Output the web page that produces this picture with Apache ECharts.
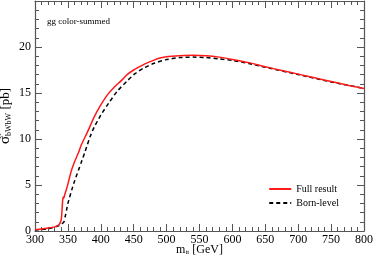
<!DOCTYPE html>
<html><head><meta charset="utf-8">
<script src="https://cdn.jsdelivr.net/npm/echarts@6/dist/echarts.min.js"></script>
<style>html,body{margin:0;padding:0;background:#fff}#c{width:374px;height:261px}</style>
</head><body><div id="c"></div>
<script>
var fullX = [300,310,320,330,335,338,340,341,342,343,344,345,348,350,355,360,366,370,380,390,400,410,420,432,440,450,460,468,480,490,500,520,540,560,580,600,625,650,675,700,725,750,775,800];
var fullY = [0.15,0.22,0.32,0.45,0.6,0.85,1.3,2.2,3.3,3.7,3.6,3.9,4.6,5.1,6.5,7.5,8.5,9.3,10.8,12.4,13.7,14.8,15.6,16.4,17.0,17.5,17.9,18.2,18.55,18.8,18.95,19.05,19.1,19.05,18.9,18.65,18.3,17.85,17.45,17.05,16.65,16.25,15.85,15.5];
var bornX = [300,320,335,340,344,346,348,350,356,360,366,370,376,384,390,400,412,425,440,452,465,480,498,520,540,560,580,600,625,650,700,750,800];
var bornY = [0.1,0.25,0.55,0.75,1.0,1.6,2.3,3.0,4.5,5.4,6.6,7.4,8.6,10.3,11.3,12.6,13.9,15.2,16.3,17.1,17.7,18.2,18.6,18.85,18.9,18.85,18.7,18.55,18.2,17.8,17.0,16.2,15.5];
var xTicks = [300,350,400,450,500,550,600,650,700,750,800];
var yTicks = [0,5,10,15,20];

function pairs(xs, ys){ return xs.map(function(x,i){return [x, ys[i]];}); }
var font = 'Liberation Serif';
var chart = echarts.init(document.getElementById('c'), null, {renderer:'canvas'});
var axLine = {show:true, onZero:false, lineStyle:{color:'#555', width:1.2}};
chart.setOption({
  animation:false,
  textStyle:{fontFamily:font},
  grid:{left:35, right:10, top:1, bottom:30, containLabel:false, outerBoundsMode:'none'},
  xAxis:[{
    type:'value', min:xTicks[0], max:xTicks[xTicks.length-1], interval:50,
    axisLine:axLine,
    axisTick:{inside:true, length:7, lineStyle:{color:'#555'}},
    minorTick:{show:true, splitNumber:5, length:4, lineStyle:{color:'#555'}},
    splitLine:{show:false},
    axisLabel:{color:'#000', fontSize:12, fontFamily:font, margin:3},
    name:'m{s|tt} [GeV]', nameLocation:'middle', nameGap:12, nameMoveOverlap:false,
    nameTextStyle:{color:'#000', fontSize:12, fontFamily:font, rich:{s:{fontSize:7, verticalAlign:'bottom', padding:[6,0,0,0], fontFamily:font}}}
  },{
    type:'value', position:'top', min:300, max:800, interval:50,
    axisLine:axLine,
    axisTick:{inside:true, length:7, lineStyle:{color:'#555'}},
    minorTick:{show:true, splitNumber:5, length:4, lineStyle:{color:'#555'}},
    splitLine:{show:false}, axisLabel:{show:false}
  }],
  yAxis:[{
    type:'value', min:0, max:25, interval:5,
    axisLine:axLine,
    axisTick:{inside:true, length:7, lineStyle:{color:'#555'}},
    minorTick:{show:true, splitNumber:5, length:4, lineStyle:{color:'#555'}},
    splitLine:{show:false},
    axisLabel:{color:'#000', fontSize:12, fontFamily:font, margin:4,
      formatter:function(v){return yTicks.indexOf(v)>=0 ? String(v) : '';}},
    name:'{g|σ̂}{s|bWbW} [pb]', nameLocation:'middle', nameGap:22, nameRotate:90, nameMoveOverlap:false,
    nameTextStyle:{color:'#000', fontSize:13, fontFamily:font, rich:{g:{fontSize:15, fontFamily:font}, s:{fontSize:8, verticalAlign:'bottom', padding:[7,0,0,0], fontFamily:font}}}
  },{
    type:'value', position:'right', min:0, max:25, interval:5,
    axisLine:axLine,
    axisTick:{inside:true, length:7, lineStyle:{color:'#555'}},
    minorTick:{show:true, splitNumber:5, length:4, lineStyle:{color:'#555'}},
    splitLine:{show:false}, axisLabel:{show:false}
  }],
  legend:{
    right:30, top:179, orient:'vertical', itemGap:4, itemWidth:22, itemHeight:8,
    itemStyle:{opacity:0},
    textStyle:{color:'#000', fontSize:10, fontFamily:font},
    data:['Full result','Born-level']
  },
  graphic:[{type:'text', left:47, top:17, style:{text:'gg color-summed', fill:'#000', font:'9px "Liberation Serif"'}}],
  series:[{
    name:'Full result', type:'line', data:pairs(fullX, fullY), showSymbol:false, symbol:'none', smooth:0.2,
    lineStyle:{color:'#ff1a1a', width:1.5}, itemStyle:{color:'#ff1a1a'}, z:3
  },{
    name:'Born-level', type:'line', data:pairs(bornX, bornY), showSymbol:false, symbol:'none', smooth:0.2,
    lineStyle:{color:'#000', width:1.5, type:[4,3]}, itemStyle:{color:'#000'}, z:2
  }]
});
</script></body></html>
